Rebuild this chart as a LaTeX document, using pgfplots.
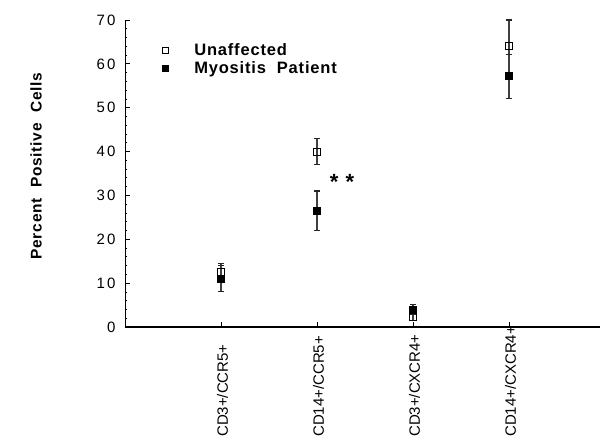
\documentclass[border=0pt]{standalone}
\usepackage{fontspec}
\setmainfont{Liberation Sans}
\newfontfamily\tickfont[LetterSpace=15]{Liberation Sans}
\newfontfamily\labfont[LetterSpace=5]{Liberation Sans Bold}
\usepackage{pgfplots}
\pgfplotsset{compat=1.18}

\begin{document}
\begin{tikzpicture}
\useasboundingbox (-125pt,-111pt) rectangle (478pt,327pt);
\begin{axis}[
    at={(0pt,0pt)}, anchor=south west,
    scale only axis, clip=false,
    width=475pt, height=307pt,
    xmin=0, xmax=4.948,
    ymin=0, ymax=70,
    axis x line=bottom, axis y line=left,
    axis line style={-, black},
    x axis line style={line width=1.4pt},
    y axis line style={line width=0.9pt},
    tick align=inside,
    xtick={1,2,3,4}, xticklabels={},
    ytick={0,10,...,70},
    minor y tick num=4,
    major tick length=5pt, minor tick length=2.5pt,
    tick style={black, line width=0.8pt},
    /pgf/number format/assume math mode=true,
    yticklabel style={font=\tickfont\fontsize{15}{15}\selectfont, xshift=-6pt},
    ylabel={Percent\ \ Positive\ \ Cells},
    every axis y label/.style={at={(axis description cs:-0.187,0.524)}, rotate=90, anchor=center,
        font=\labfont\fontsize{15.5}{16}\selectfont},
    legend style={draw=none, fill=none, at={(axis cs:0.33,65.5)}, anchor=north west,
        font=\labfont\fontsize{16.5}{17}\selectfont, row sep=0pt},
    legend image code/.code={
        \path (0pt,0pt) (32pt,0pt);
        \draw[#1, mark size=3pt] plot coordinates {(5pt,0pt)};
    },
    legend cell align=left,
    error bars/error bar style={line width=1.2pt, black!75},
    error bars/error mark options={rotate=90, mark size=3pt, line width=1.1pt, black!85},
]

% Unaffected
\addplot[only marks, mark=square, mark size=3.5pt, mark options={line width=0.8pt, black},
    error bars/.cd, y dir=both, y explicit]
    coordinates {
    (1,12.5) +- (0,2.0)
    (2,40.0) +- (0,3.0)
    (3,2.2)  +- (0,0.8)
    (4,64.0) +- (0,6.0)
    };
\addlegendentry{Unaffected}

% Myositis patients
\addplot[only marks, mark=square*, mark size=3.5pt, mark options={black, fill=black},
    error bars/.cd, y dir=both, y explicit]
    coordinates {
    (1,11.0) +- (0,3.0)
    (2,26.5) +- (0,4.5)
    (3,4.0)  +- (0,1.2)
    (4,57.2) +- (0,5.0)
    };
\addlegendentry{Myositis\ \ Patient}

% significance
\node[font=\labfont\fontsize{22}{22}\selectfont] at (axis cs:2.26,33.0) {*\ *};

% category labels, bottom aligned
\node[yshift=-110pt, xshift=1.5pt, rotate=90, anchor=west, inner sep=0pt, font=\fontsize{15}{15}\selectfont]
    at (axis cs:1,0) {CD3+/CCR5+};
\node[yshift=-110pt, xshift=1.5pt, rotate=90, anchor=west, inner sep=0pt, font=\fontsize{15}{15}\selectfont]
    at (axis cs:2,0) {CD14+/CCR5+};
\node[yshift=-110pt, xshift=1.5pt, rotate=90, anchor=west, inner sep=0pt, font=\fontsize{15}{15}\selectfont]
    at (axis cs:3,0) {CD3+/CXCR4+};
\node[yshift=-110pt, xshift=1.5pt, rotate=90, anchor=west, inner sep=0pt, font=\fontsize{15}{15}\selectfont]
    at (axis cs:4,0) {CD14+/CXCR4+};

\end{axis}
\end{tikzpicture}
\end{document}
